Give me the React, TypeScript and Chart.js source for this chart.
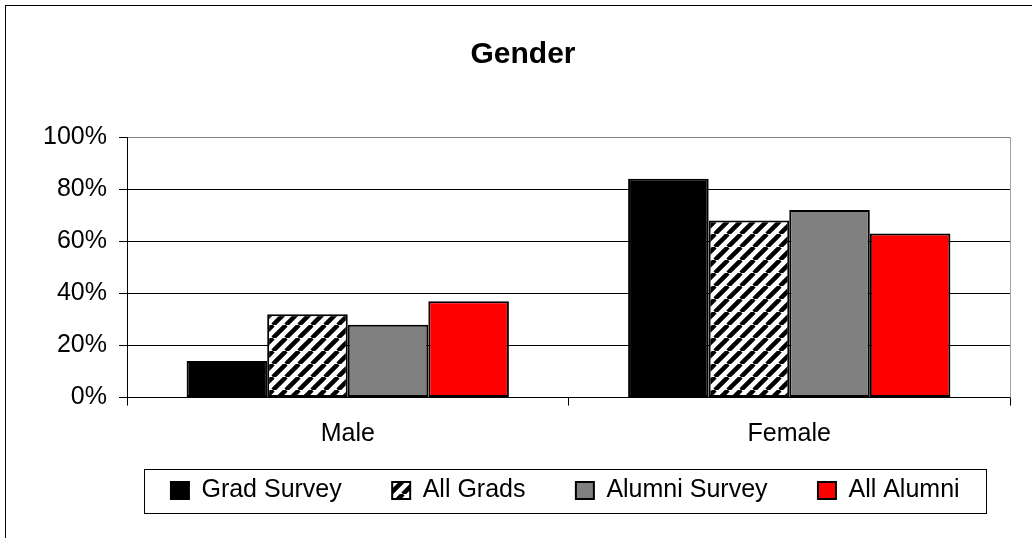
import { useEffect, useRef } from 'react';
import { Chart, registerables } from 'chart.js';

Chart.register(...registerables);

const categories = ['Male', 'Female'];
const seriesLabels = ['Grad Survey', 'All Grads', 'Alumni Survey', 'All Alumni'];
const gradSurvey = [14, 84];
const allGrads = [32, 68];
const alumniSurvey = [28, 72];
const allAlumni = [37, 63];
const yTickValues = [0, 20, 40, 60, 80, 100];
const titleText = 'Gender';

function makeHatch(): CanvasPattern | string {
  const size = 13;
  const c = document.createElement('canvas');
  c.width = size;
  c.height = size;
  const g = c.getContext('2d');
  if (!g) return '#fff';
  g.fillStyle = '#fff';
  g.fillRect(0, 0, size, size);
  g.strokeStyle = '#000';
  g.lineWidth = 4.5;
  g.beginPath();
  for (const x0 of [-size, 0, size]) {
    g.moveTo(x0, size);
    g.lineTo(x0 + size, 0);
  }
  g.stroke();
  const p = g.createPattern(c, 'repeat');
  return p || '#fff';
}

export default function App() {
  const ref = useRef<HTMLCanvasElement>(null);

  useEffect(() => {
    const canvas = ref.current;
    if (!canvas) return;
    const hatch = makeHatch();
    const FONT = '"Liberation Sans", Arial, Helvetica, sans-serif';
    const LEGEND_SHIFT = 20;

    const framePlugin = {
      id: 'frame',
      afterLayout(chart: any) {
        const lg = chart.legend;
        if (lg) {
          lg.top -= LEGEND_SHIFT;
          lg.bottom -= LEGEND_SHIFT;
        }
      },
      afterDraw(chart: any) {
        const ctx = chart.ctx as CanvasRenderingContext2D;
        const area = chart.chartArea;
        ctx.save();
        // outer border
        ctx.strokeStyle = '#000';
        ctx.lineWidth = 1;
        ctx.strokeRect(5.5, 5.5, chart.width + 40, chart.height + 40);
        // right plot edge
        ctx.strokeStyle = '#a0a0a0';
        const rx = Math.round(area.right) + 0.5;
        ctx.beginPath();
        ctx.moveTo(rx, area.top);
        ctx.lineTo(rx, area.bottom);
        ctx.stroke();
        // legend frame
        const hb = chart.legend && chart.legend.legendHitBoxes;
        if (hb && hb.length) {
          let l = Infinity, r = -Infinity, t = Infinity, b = -Infinity;
          for (const h of hb) {
            l = Math.min(l, h.left);
            r = Math.max(r, h.left + h.width);
            t = Math.min(t, h.top);
            b = Math.max(b, h.top + h.height);
          }
          ctx.strokeStyle = '#000';
          ctx.lineWidth = 1;
          ctx.strokeRect(Math.round(l - 27) + 0.5, Math.round(t - 9) + 0.5, Math.round(r - l + 53), Math.round(b - t + 19));
        }
        ctx.restore();
      },
    };

    const chart = new Chart(canvas, {
      type: 'bar',
      data: {
        labels: categories,
        datasets: [
          { label: seriesLabels[0], data: gradSurvey, backgroundColor: '#000000', borderColor: '#000', borderWidth: 2, borderSkipped: false },
          { label: seriesLabels[1], data: allGrads, backgroundColor: hatch as any, borderColor: '#000', borderWidth: 2, borderSkipped: false },
          { label: seriesLabels[2], data: alumniSurvey, backgroundColor: '#808080', borderColor: '#000', borderWidth: 2, borderSkipped: false },
          { label: seriesLabels[3], data: allAlumni, backgroundColor: '#ff0000', borderColor: '#000', borderWidth: 2, borderSkipped: false },
        ],
      },
      options: {
        responsive: true,
        maintainAspectRatio: false,
        animation: false,
        layout: { padding: { left: 36, right: 22, top: 0, bottom: 5 } },
        datasets: { bar: { categoryPercentage: 0.73, barPercentage: 1 } } as any,
        plugins: {
          title: {
            display: true,
            text: titleText,
            color: '#000',
            font: { family: FONT, size: 30, weight: 'bold' },
            padding: { top: 37, bottom: 64 },
          },
          legend: {
            display: true,
            position: 'bottom',
            align: 'end',
            labels: {
              color: '#000',
              boxWidth: 18,
              boxHeight: 17,
              padding: 50.4,
              font: { family: FONT, size: 25 },
            },
          },
          tooltip: { enabled: false },
        },
        scales: {
          x: {
            afterFit: (s: any) => { s.height = 50; },
            grid: { display: true, drawOnChartArea: false, drawTicks: true, tickLength: 8, tickColor: '#000', offset: true },
            border: { display: true, color: '#000', width: 1 },
            ticks: { color: '#000', padding: 14, font: { family: FONT, size: 25 } },
          },
          y: {
            min: 0,
            max: 100,
            afterFit: (s: any) => { s.width = 91; },
            afterBuildTicks: (s: any) => { s.ticks = yTickValues.map((v) => ({ value: v })); },
            grid: {
              color: (c: any) => (c.tick && c.tick.value === 100 ? '#808080' : '#000'),
              tickColor: '#000',
              tickLength: 8,
              lineWidth: 1,
            },
            border: { display: true, color: '#000', width: 1 },
            ticks: {
              color: '#000',
              padding: 12,
              font: { family: FONT, size: 25 },
              callback: (v: any) => `${v}%`,
            },
          },
        },
      },
      plugins: [framePlugin],
    });

    return () => chart.destroy();
  }, []);

  return (
    <div style={{ position: 'fixed', left: 0, top: 0, width: 1032, height: 538, background: '#fff' }}>
      <canvas ref={ref} />
    </div>
  );
}
